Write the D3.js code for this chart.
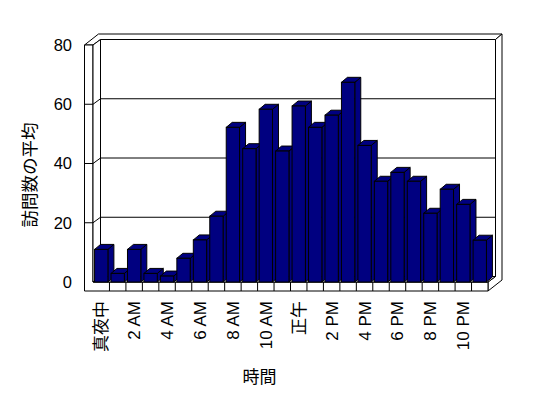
<!DOCTYPE html>
<html>
<head>
    <meta charset="utf-8" />
    <title>訪問数の平均</title>
    <style>
        body { margin: 0; background: #fff; }
        svg text { font-family: Arial, "Liberation Sans", "Noto Sans CJK JP", sans-serif; fill: #000; }
        .wall { fill: #fff; stroke: #000; stroke-width: 1; }
        .bar { fill: #000080; stroke: #000; stroke-width: 1; }
    </style>
</head>
<body>
    <script src="https://cdn.jsdelivr.net/npm/d3@7/dist/d3.min.js"></script>
    <script>
    // 時間ごとの訪問数の平均
    var categories = ["真夜中", "1 AM", "2 AM", "3 AM", "4 AM", "5 AM", "6 AM", "7 AM",
        "8 AM", "9 AM", "10 AM", "11 AM", "正午", "1 PM", "2 PM", "3 PM",
        "4 PM", "5 PM", "6 PM", "7 PM", "8 PM", "9 PM", "10 PM", "11 PM"];
    var visits = [11.0, 2.9, 11.0, 2.9, 2.0, 8.0, 14.2, 22.2, 52.2, 45.0, 58.3, 44.2,
        59.4, 52.2, 56.3, 67.4, 46.1, 34.0, 37.0, 34.0, 23.2, 31.3, 26.2, 14.1];
    var yTicks = [0, 20, 40, 60, 80];
    var xTitle = "時間",
        yTitle = "訪問数の平均";

    var width = 548,
        height = 398,
        wallLeft = 84.5,      // left wall, front face
        floorLeft = 93,
        floorRight = 488,
        floorTop = 282,
        floorBottom = 291,
        plotTop = 45,
        depth = {x: 7.5, y: -5.5},     // floor depth
        thick = {x: 6.5, y: -5.5},     // back wall thickness
        barDepth = {x: 6, y: -5};

    var x = d3.scaleBand()
        .domain(categories)
        .range([floorLeft, floorRight])
        .padding(0);

    var xBar = d3.scaleBand()
        .domain(categories)
        .range([floorLeft, floorRight])
        .paddingInner(0.19)
        .paddingOuter(0.095);

    var y = d3.scaleLinear()
        .domain([0, 80])
        .range([floorTop, plotTop]);

    var svg = d3.select("body").append("svg")
        .attr("width", width)
        .attr("height", height);

    var line = d3.line();
    var backL = floorLeft + depth.x,
        backR = floorRight + depth.x,
        backTop = plotTop + depth.y,
        backBottom = floorTop + depth.y,
        outerR = floorRight + depth.x + thick.x,
        outerTop = plotTop + depth.y + thick.y;

    function poly(pts, cls) {
        svg.append("path")
            .attr("class", cls)
            .attr("d", line(pts) + "Z");
    }

    renderWalls();
    renderGrid();
    renderBars();
    renderLabels();

    function renderWalls() {
        // top faces of left wall + back wall
        poly([[wallLeft, plotTop], [floorLeft, plotTop], [backL, backTop], [backR, backTop],
            [outerR, outerTop], [wallLeft + depth.x + thick.x, outerTop]], "wall");
        // right side of back wall + floor
        poly([[floorRight, floorTop], [backR, backBottom], [backR, backTop], [outerR, outerTop],
            [outerR, floorBottom + depth.y + thick.y], [floorRight, floorBottom]], "wall");
        // front faces (left wall + floor)
        poly([[wallLeft, plotTop], [floorLeft, plotTop], [floorLeft, floorTop], [floorRight, floorTop],
            [floorRight, floorBottom], [wallLeft, floorBottom]], "wall");
        // inner face of left wall
        poly([[floorLeft, plotTop], [backL, backTop], [backL, backBottom], [floorLeft, floorTop]], "wall");
        // back wall
        poly([[backL, backTop], [backR, backTop], [backR, backBottom], [backL, backBottom]], "wall");
        // floor top
        poly([[floorLeft, floorTop], [floorRight, floorTop], [backR, backBottom], [backL, backBottom]], "wall");

        // category ticks on the floor front
        svg.append("g").selectAll("line")
            .data(categories.slice(1))
          .enter().append("line")
            .attr("x1", function(d) { return x(d); })
            .attr("x2", function(d) { return x(d); })
            .attr("y1", floorTop)
            .attr("y2", floorBottom)
            .attr("stroke", "#000");
    }

    function renderGrid() {
        svg.append("g").selectAll("path")
            .data(yTicks.slice(1, -1))
          .enter().append("path")
            .attr("fill", "none")
            .attr("stroke", "#000")
            .attr("d", function(d) {
                var yy = y(d);
                return line([[wallLeft, yy], [floorLeft, yy], [backL, yy + depth.y], [backR, yy + depth.y]]);
            });
    }

    function renderBars() {
        var w = xBar.bandwidth();
        var g = svg.append("g");
        categories.forEach(function(c, i) {
            var x0 = xBar(c), yv = y(visits[i]), y0 = y(0);
            var bar = g.append("g");
            bar.append("path").attr("class", "bar")
                .attr("d", line([[x0 + w, yv], [x0 + w + barDepth.x, yv + barDepth.y],
                    [x0 + w + barDepth.x, y0 + barDepth.y], [x0 + w, y0]]) + "Z");
            bar.append("path").attr("class", "bar")
                .attr("d", line([[x0, yv], [x0 + w, yv], [x0 + w + barDepth.x, yv + barDepth.y],
                    [x0 + barDepth.x, yv + barDepth.y]]) + "Z");
            bar.append("rect").attr("class", "bar")
                .attr("x", x0)
                .attr("y", yv)
                .attr("width", w)
                .attr("height", y0 - yv);
        });
    }

    function renderLabels() {
        svg.append("g").selectAll("text")
            .data(yTicks)
          .enter().append("text")
            .attr("x", 72)
            .attr("y", function(d) { return y(d); })
            .attr("dy", "0.35em")
            .attr("text-anchor", "end")
            .attr("font-size", 16.5)
            .text(function(d) { return d; });

        svg.append("g").selectAll("text")
            .data(categories.filter(function(d, i) { return i % 2 === 0; }))
          .enter().append("text")
            .attr("transform", function(d) {
                return "translate(" + (x(d) + x.bandwidth() / 2) + ",301) rotate(-90)";
            })
            .attr("dy", "0.35em")
            .attr("text-anchor", "end")
            .attr("font-size", 17)
            .text(function(d) { return d; });

        svg.append("text")
            .attr("x", 259.5)
            .attr("y", 377)
            .attr("dy", "0.35em")
            .attr("text-anchor", "middle")
            .attr("font-size", 17)
            .text(xTitle);

        svg.append("text")
            .attr("transform", "translate(29.5,175) rotate(-90)")
            .attr("dy", "0.35em")
            .attr("text-anchor", "middle")
            .attr("font-size", 17.5)
            .text(yTitle);
    }
    </script>
</body>
</html>
